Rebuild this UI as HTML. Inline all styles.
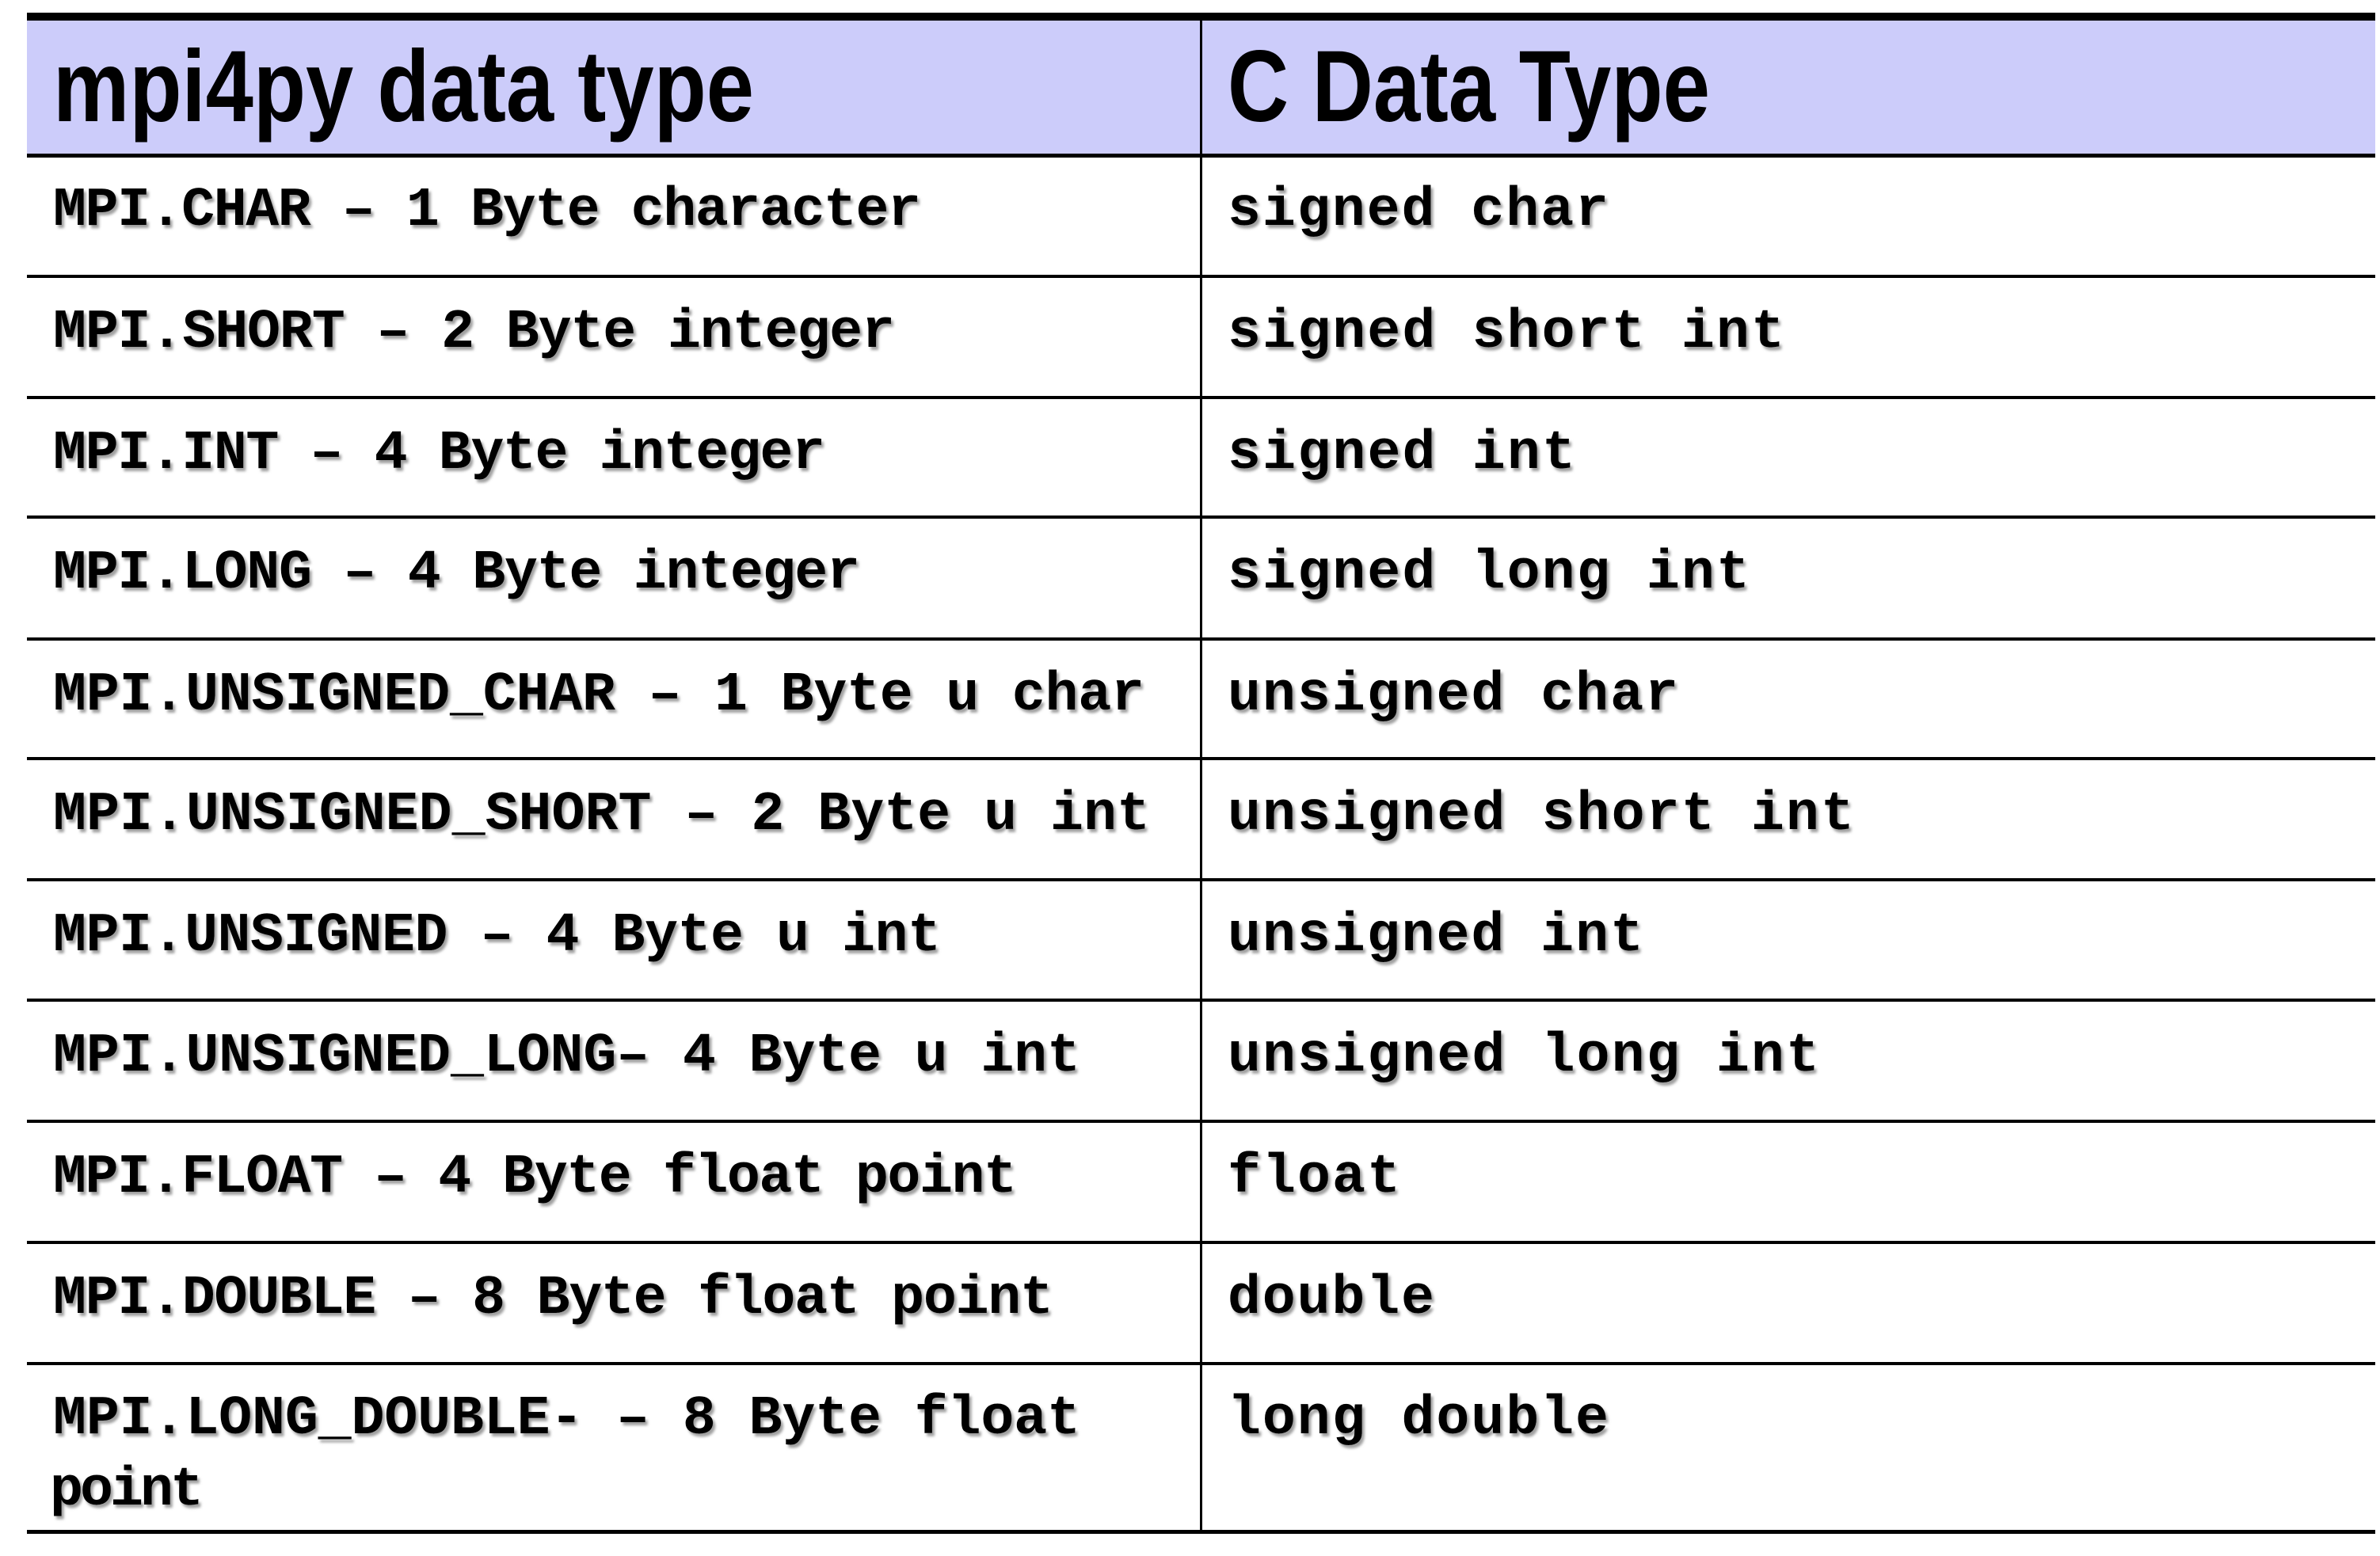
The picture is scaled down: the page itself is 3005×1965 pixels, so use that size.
<!DOCTYPE html>
<html><head><meta charset="utf-8"><style>
html,body{margin:0;padding:0;background:#fff;}
svg{display:block;}
.h{font-family:"Liberation Sans",sans-serif;font-weight:bold;font-size:128px;fill:#000;}
.t{font-family:"Liberation Mono",monospace;font-weight:bold;font-size:70px;fill:#000;}
</style></head><body>
<svg width="3005" height="1965" viewBox="0 0 3005 1965" xmlns="http://www.w3.org/2000/svg">
<defs><filter id="sh" x="-5%" y="-20%" width="110%" height="150%"><feDropShadow dx="3" dy="4" stdDeviation="1.5" flood-color="#888" flood-opacity="0.8"/></filter></defs>
<rect x="34" y="24" width="2965" height="172" fill="#ccccfa"/>
<rect x="34" y="16" width="2965" height="10" fill="#000"/>
<rect x="34" y="194" width="2965" height="5" fill="#000"/>
<g fill="#000">
<rect x="34" y="347" width="2965" height="4"/>
<rect x="34" y="500" width="2965" height="4"/>
<rect x="34" y="651" width="2965" height="4"/>
<rect x="34" y="805" width="2965" height="4"/>
<rect x="34" y="956" width="2965" height="4"/>
<rect x="34" y="1109" width="2965" height="4"/>
<rect x="34" y="1261" width="2965" height="4"/>
<rect x="34" y="1414" width="2965" height="4"/>
<rect x="34" y="1567" width="2965" height="4"/>
<rect x="34" y="1720" width="2965" height="4"/>
<rect x="34" y="1932" width="2965" height="5"/>
<rect x="1515" y="24" width="3" height="1910"/>
</g>
<text class="h" x="67" y="153" textLength="885" lengthAdjust="spacingAndGlyphs">mpi4py data type</text>
<text class="h" x="1550" y="153" textLength="609" lengthAdjust="spacingAndGlyphs">C Data Type</text>
<g class="t" filter="url(#sh)">
<text x="67" y="284" textLength="1096" lengthAdjust="spacing">MPI.CHAR – 1 Byte character</text>
<text x="67" y="438" textLength="1063" lengthAdjust="spacing">MPI.SHORT – 2 Byte integer</text>
<text x="67" y="591" textLength="975" lengthAdjust="spacing">MPI.INT – 4 Byte integer</text>
<text x="67" y="742" textLength="1019" lengthAdjust="spacing">MPI.LONG – 4 Byte integer</text>
<text x="67" y="896" textLength="1378" lengthAdjust="spacing">MPI.UNSIGNED_CHAR – 1 Byte u char</text>
<text x="67" y="1047" textLength="1385" lengthAdjust="spacing">MPI.UNSIGNED_SHORT – 2 Byte u int</text>
<text x="67" y="1200" textLength="1121" lengthAdjust="spacing">MPI.UNSIGNED – 4 Byte u int</text>
<text x="67" y="1352" textLength="1297" lengthAdjust="spacing">MPI.UNSIGNED_LONG– 4 Byte u int</text>
<text x="67" y="1505" textLength="1217" lengthAdjust="spacing">MPI.FLOAT – 4 Byte float point</text>
<text x="67" y="1658" textLength="1263" lengthAdjust="spacing">MPI.DOUBLE – 8 Byte float point</text>
<text x="67" y="1810" textLength="1297" lengthAdjust="spacing">MPI.LONG_DOUBLE- – 8 Byte float</text>
<text x="63" y="1900" textLength="194" lengthAdjust="spacing">point</text>
<text x="1550" y="284" textLength="481" lengthAdjust="spacing">signed char</text>
<text x="1550" y="438" textLength="703" lengthAdjust="spacing">signed short int</text>
<text x="1550" y="591" textLength="439" lengthAdjust="spacing">signed int</text>
<text x="1550" y="742" textLength="659" lengthAdjust="spacing">signed long int</text>
<text x="1550" y="896" textLength="569" lengthAdjust="spacing">unsigned char</text>
<text x="1550" y="1047" textLength="791" lengthAdjust="spacing">unsigned short int</text>
<text x="1550" y="1200" textLength="525" lengthAdjust="spacing">unsigned int</text>
<text x="1550" y="1352" textLength="747" lengthAdjust="spacing">unsigned long int</text>
<text x="1550" y="1505" textLength="218" lengthAdjust="spacing">float</text>
<text x="1550" y="1658" textLength="261" lengthAdjust="spacing">double</text>
<text x="1550" y="1810" textLength="481" lengthAdjust="spacing">long double</text>
</g>
</svg>
</body></html>
